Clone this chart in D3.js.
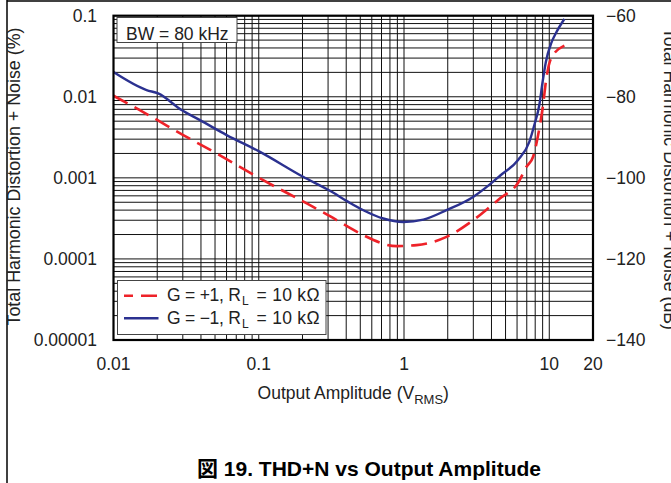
<!DOCTYPE html>
<html lang="ja">
  <head>
    <meta charset="UTF-8" />
    <title>THD+N vs Output Amplitude</title>
    <script src="https://cdn.jsdelivr.net/npm/d3@7"></script>
    <style>
      body { margin: 0; background: #fff; }
      text { font-family: Arial, "Liberation Sans", "Noto Sans CJK JP", sans-serif; fill: #222; }
    </style>
  </head>
  <body>
    <script>
      // G = -1, RL = 10 kOhm (solid blue)
      var ampBlue = [0.01, 0.0169, 0.0203, 0.0294, 0.0394, 0.0601, 0.102, 0.202, 0.309, 0.413, 0.525, 0.72, 0.99, 1.36, 1.96, 2.99, 3.9, 4.6, 6.1, 7.3, 7.89, 8.54, 9.0, 9.48, 10.3, 11.1, 12.7];
      var thdBlue = [0.0202, 0.0121, 0.011, 0.00686, 0.00515, 0.00337, 0.00209, 0.00103, 0.000692, 0.000506, 0.000399, 0.000315, 0.000286, 0.000306, 0.000399, 0.000582, 0.00083, 0.00107, 0.00166, 0.0028, 0.00448, 0.00791, 0.0153, 0.027, 0.0456, 0.0607, 0.091];
      // G = +1, RL = 10 kOhm (dashed red)
      var ampRed = [0.01, 0.0178, 0.0302, 0.0513, 0.102, 0.214, 0.309, 0.413, 0.525, 0.889, 1.22, 1.96, 2.99, 3.9, 4.57, 6.1, 6.97, 7.74, 8.38, 9.06, 9.55, 10.3, 12.7];
      var thdRed = [0.0103, 0.00583, 0.00337, 0.002, 0.000984, 0.000483, 0.000337, 0.000248, 0.000196, 0.000144, 0.000148, 0.000187, 0.0003, 0.000439, 0.000557, 0.00087, 0.00137, 0.00182, 0.00337, 0.00791, 0.0169, 0.0298, 0.0427];

      var xTicks = [0.01, 0.1, 1, 10, 20];
      var xTickLabels = ["0.01", "0.1", "1", "10", "20"];
      var yTicks = [0.00001, 0.0001, 0.001, 0.01, 0.1];
      var yTickLabels = ["0.00001", "0.0001", "0.001", "0.01", "0.1"];
      var dbTicks = [-140, -120, -100, -80, -60];
      var dbTickLabels = ["\u2212140", "\u2212120", "\u2212100", "\u221280", "\u221260"];

      var W = 671, H = 483;
      var pl = 113.5, pr = 593, pt = 15.7, pb = 340;
      var fs = 17.5;

      var svg = d3.select("body").append("svg")
        .attr("width", W)
        .attr("height", H);

      // page frame
      svg.append("line").attr("x1", 7).attr("y1", 0).attr("x2", 7).attr("y2", H)
        .attr("stroke", "#000").attr("stroke-width", 1.5);
      svg.append("line").attr("x1", 7).attr("y1", 1).attr("x2", W).attr("y2", 1)
        .attr("stroke", "#000").attr("stroke-width", 1.5);

      var x = d3.scaleLog().domain([0.01, 20]).range([pl, pr]);
      var y = d3.scaleLog().domain([0.00001, 0.1]).range([pb, pt]);
      var yDb = d3.scaleLinear().domain([-140, -60]).range([pb, pt]);

      // grid
      var grid = svg.append("g").attr("stroke", "#111").attr("stroke-width", 1);
      grid.selectAll(".vx").data(x.ticks().filter(function (d) { return d <= 10; }))
        .enter().append("line")
        .attr("x1", function (d) { return x(d); })
        .attr("x2", function (d) { return x(d); })
        .attr("y1", pt).attr("y2", pb);
      grid.selectAll(".hy").data(y.ticks())
        .enter().append("line")
        .attr("y1", function (d) { return y(d); })
        .attr("y2", function (d) { return y(d); })
        .attr("x1", pl).attr("x2", pr);

      // curves
      var line = d3.line()
        .x(function (d) { return x(d[0]); })
        .y(function (d) { return y(d[1]); })
        .curve(d3.curveMonotoneX);

      svg.append("path")
        .datum(ampRed.map(function (a, i) { return [a, thdRed[i]]; }))
        .attr("d", line)
        .attr("fill", "none")
        .attr("stroke", "#ee2229")
        .attr("stroke-width", 2.6)
        .attr("stroke-dasharray", "16,8");

      svg.append("path")
        .datum(ampBlue.map(function (a, i) { return [a, thdBlue[i]]; }))
        .attr("d", line)
        .attr("fill", "none")
        .attr("stroke", "#2b3190")
        .attr("stroke-width", 2.4);

      // plot border
      svg.append("rect")
        .attr("x", pl).attr("y", pt)
        .attr("width", pr - pl).attr("height", pb - pt)
        .attr("fill", "none").attr("stroke", "#000").attr("stroke-width", 2.2);

      // BW box
      svg.append("rect")
        .attr("x", 117).attr("y", 17.5).attr("width", 120).attr("height", 25)
        .attr("fill", "#fff").attr("stroke", "#444").attr("stroke-width", 1);
      svg.append("text").attr("x", 126).attr("y", 39.5)
        .attr("font-size", fs).text("BW = 80 kHz");

      // legend
      var leg = svg.append("g");
      leg.append("rect")
        .attr("x", 117.5).attr("y", 280.5).attr("width", 208.5).attr("height", 54)
        .attr("fill", "#fff").attr("stroke", "#444").attr("stroke-width", 1);
      var legItems = [
        { pre: "G = +1, R", color: "#ee2229", dash: "16,8", off: 7, yy: 295.7 },
        { pre: "G = \u22121, R", color: "#2b3190", dash: null, off: 0, yy: 318.3 }
      ];
      legItems.forEach(function (it) {
        leg.append("line")
          .attr("x1", 124).attr("x2", 158.5)
          .attr("y1", it.yy).attr("y2", it.yy)
          .attr("stroke", it.color).attr("stroke-width", 2.6)
          .attr("stroke-dasharray", it.dash)
          .attr("stroke-dashoffset", it.off);
        var by = it.yy + 5.5;
        leg.append("text").attr("x", 167).attr("y", by).attr("font-size", fs)
          .attr("textLength", 74).attr("lengthAdjust", "spacing").text(it.pre);
        leg.append("text").attr("x", 242).attr("y", by + 4).attr("font-size", 12).text("L");
        leg.append("text").attr("x", 256.5).attr("y", by).attr("font-size", fs)
          .attr("textLength", 63).attr("lengthAdjust", "spacing").text("= 10 k\u03a9");
      });

      // left tick labels
      svg.selectAll(".yl").data(yTicks).enter().append("text")
        .attr("x", 97)
        .attr("y", function (d) { return y(d) + 6; })
        .attr("text-anchor", "end")
        .attr("font-size", fs)
        .text(function (d, i) { return yTickLabels[i]; });

      // right tick labels (dB)
      svg.selectAll(".dl").data(dbTicks).enter().append("text")
        .attr("x", 606)
        .attr("y", function (d) { return yDb(d) + 6; })
        .attr("font-size", fs)
        .text(function (d, i) { return dbTickLabels[i]; });

      // bottom tick labels
      svg.selectAll(".xl").data(xTicks).enter().append("text")
        .attr("x", function (d) { return x(d); })
        .attr("y", 370)
        .attr("text-anchor", "middle")
        .attr("font-size", fs)
        .text(function (d, i) { return xTickLabels[i]; });

      // axis titles
      var xt = svg.append("text")
        .attr("x", (pl + pr) / 2).attr("y", 399)
        .attr("text-anchor", "middle")
        .attr("font-size", fs);
      xt.append("tspan").text("Output Amplitude (V");
      xt.append("tspan").attr("font-size", 13).attr("dy", 5).text("RMS");
      xt.append("tspan").attr("dy", -5).text(")");

      svg.append("text")
        .attr("transform", "translate(20,176.5) rotate(-90)")
        .attr("text-anchor", "middle")
        .attr("font-size", fs)
        .attr("textLength", 298)
        .attr("lengthAdjust", "spacingAndGlyphs")
        .text("Total Harmonic Distortion + Noise (%)");

      svg.append("text")
        .attr("transform", "translate(664,179) rotate(90)")
        .attr("text-anchor", "middle")
        .attr("font-size", fs)
        .attr("textLength", 302)
        .attr("lengthAdjust", "spacingAndGlyphs")
        .text("Total Harmonic Distortion + Noise (dB)");

      // caption
      svg.append("text")
        .attr("x", 369).attr("y", 476)
        .attr("text-anchor", "middle")
        .attr("font-size", 21)
        .attr("font-weight", "bold")
        .style("fill", "#000")
        .text("\u56f3 19. THD+N vs Output Amplitude");
    </script>
  </body>
</html>
